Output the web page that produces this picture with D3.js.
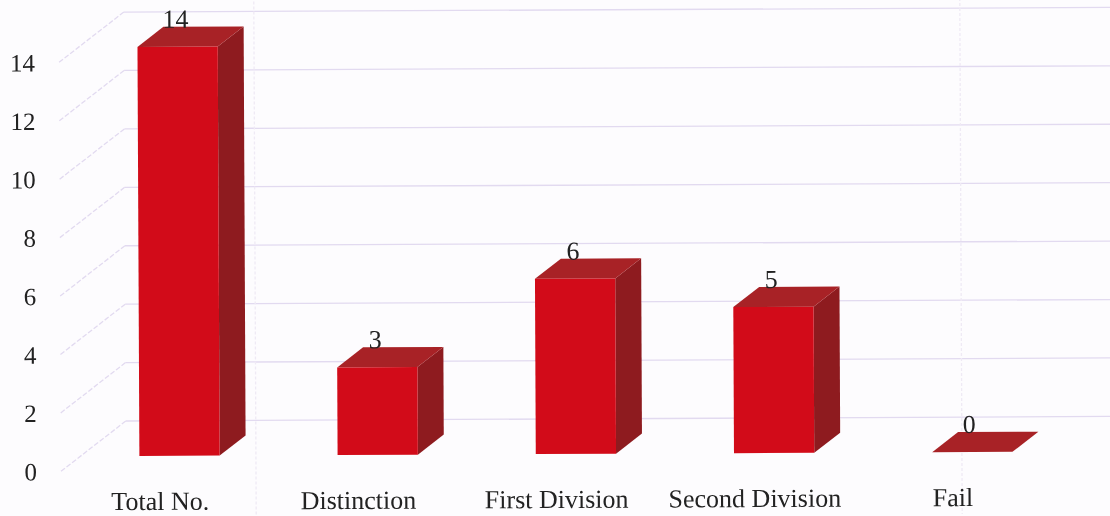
<!DOCTYPE html>
<html><head><meta charset="utf-8">
<script src="https://cdn.jsdelivr.net/npm/d3@7"></script>
<style>html,body{margin:0;padding:0;background:#fdfcfe}svg{display:block;filter:blur(0.45px)}text{font-family:"Liberation Serif",serif;fill:#222}</style>
</head><body><svg id="c" width="1110" height="516"></svg>
<script>
const categories = ["Total No.","Distinction","First Division","Second Division","Fail"];
const values = [14,3,6,5,0];
const yTicks = [0,2,4,6,8,10,12,14];

const svg = d3.select("#c");
const g = svg.append("g").attr("transform","rotate(-0.27 555 258)");
const x = d3.scaleBand().domain(categories).range([80,1070]).paddingInner(0.595).paddingOuter(0.295);
const y = d3.scaleLinear().domain([0,14]).range([454,45]);
const barDx = 26, barDy = -20, wallDx = 65, wallDy = -50;

const grid = "#e2daf0";
const lines = g.append("g").attr("fill","none").attr("stroke",grid).attr("stroke-width",1.3);
yTicks.forEach(t=>{
  const yy = y(t)+15;
  lines.append("line").attr("x1",60).attr("y1",yy).attr("x2",60+wallDx).attr("y2",yy+wallDy)
    .attr("stroke-dasharray","5 2");
  lines.append("line").attr("x1",60+wallDx).attr("y1",yy+wallDy).attr("x2",1112).attr("y2",yy+wallDy);
});
[255,961].forEach(vx=>{
  lines.append("line").attr("x1",vx).attr("x2",vx).attr("y1",0).attr("y2",516)
    .attr("stroke","#efeaf5").attr("stroke-dasharray","3 2");
});

const bars = g.selectAll("g.bar").data(values).join("g").attr("class","bar");
bars.each(function(v,i){
  const s = d3.select(this), x0 = x(categories[i]), w = x.bandwidth(), t = y(v), b = y(0);
  const poly = pts => d3.line()(pts)+"Z";
  s.append("path").attr("fill","#8e1b1f").attr("d",poly([[x0+w,t],[x0+w+barDx,t+barDy],[x0+w+barDx,b+barDy],[x0+w,b]]));
  s.append("path").attr("fill","#a82226").attr("d",poly([[x0,t],[x0+barDx,t+barDy],[x0+w+barDx,t+barDy],[x0+w,t]]));
  s.append("rect").attr("x",x0).attr("y",t).attr("width",w).attr("height",b-t).attr("fill","#d20b19");
  s.append("text").attr("x",x0+w/2+(v===0?-3:-2)).attr("y",t+barDy+1).attr("text-anchor","middle").attr("font-size",26).text(v);
});

g.selectAll("text.yl").data(yTicks).join("text").attr("class","yl")
  .attr("x",36).attr("y",d=>y(d)+24).attr("text-anchor","end").attr("font-size",25).text(d=>d);
g.selectAll("text.xl").data(categories).join("text").attr("class","xl")
  .attr("x",d=>x(d)+x.bandwidth()/2-19.5).attr("y",508).attr("text-anchor","middle").attr("font-size",26).text(d=>d);
</script></body></html>
